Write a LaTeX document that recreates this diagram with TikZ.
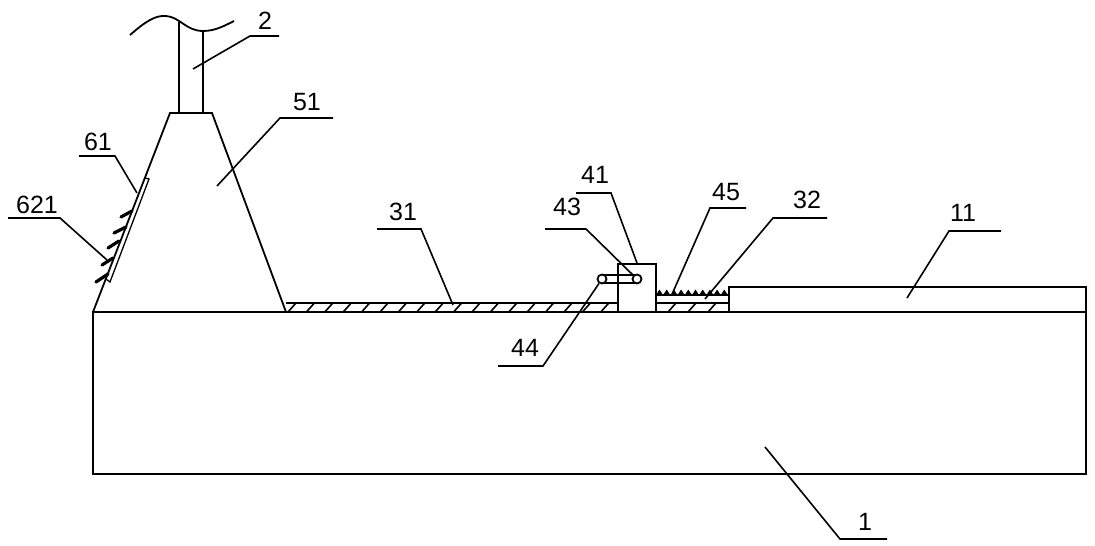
\documentclass[tikz,border=0pt]{standalone}
\usepackage{fontspec}
\setmainfont{Liberation Sans}
\usetikzlibrary{positioning}

\begin{document}
\begin{tikzpicture}[x=1pt,y=-1pt,line width=1.8pt,line join=miter,
  leader/.style={line width=1.6pt},
  brush/.style={line width=3.2pt,line cap=round},
  hatch/.style={line width=1.6pt},
  num/.style={font=\fontsize{25}{25}\selectfont,inner sep=0pt,text=black}]
  \useasboundingbox (0,0) rectangle (1095,546);
  % base and cover
  \draw (93,312) rectangle (1086,474);
  \draw (729,312) -- (729,287) -- (1086,287) -- (1086,312);
  % cone with pole
  \coordinate (coneA) at (93,312);
  \coordinate (coneB) at (170,113);
  \coordinate (coneC) at (212,113);
  \coordinate (coneD) at (286,312);
  \draw (coneA) -- (coneB) -- (coneC) -- (coneD);
  \draw (179,113) -- (179,22);
  \draw (203,113) -- (203,31);
  \draw (130,35) .. controls (145,22) and (155,15) .. (166,16)
     .. controls (180,17) and (186,31) .. (203,31)
     .. controls (215,31) and (224,26) .. (234,21);
  % plate 61 and brush 621
  \draw[line width=1.3pt] (145,178) -- (149,179) -- (110,282) -- (106,279);
  \draw[brush] (121,217) -- (132,211);
  \draw[brush] (114,233) -- (126,227);
  \draw[brush] (108,248) -- (119,241);
  \draw[brush] (102,265) -- (113,258);
  \draw[brush] (96,282) -- (108,274);
  % strips
  \draw (286,303) -- (618,303);
  \draw (656,303) -- (729,303);
  \draw (656,295) -- (729,295);
  \foreach \i in {0,...,17}
    \draw[hatch] (288+18.4*\i,312) -- (296+18.4*\i,303);
  \foreach \i in {0,1,2}
    \draw[hatch] (668+20*\i,312) -- (676+20*\i,303);
  % teeth
  \foreach \i in {0,...,9}
    \fill (656+7.2*\i,295) -- (659.5+7.2*\i,289.5) -- (663+7.2*\i,295) -- cycle;
  % slider 41
  \draw (618,312) -- (618,264) -- (656,264) -- (656,312);
  \draw (602,275) -- (637,275);
  \draw (602,283) -- (637,283);
  \node[circle,draw,fill=white,minimum size=9pt,inner sep=0pt] (roll1) at (602,279) {};
  \node[circle,draw,fill=white,minimum size=9pt,inner sep=0pt] (roll2) at (637,279) {};
  % labels and leaders
  \node[num] (n2) at (265,21) {2};
  \node[num] (n51) at (307,102) {51};
  \node[num] (n61) at (98,142) {61};
  \node[num] (n621) at (37,205) {621};
  \node[num] (n31) at (403,212) {31};
  \node[num] (n41) at (595,175) {41};
  \node[num] (n43) at (567,207) {43};
  \node[num] (n45) at (726,192) {45};
  \node[num] (n32) at (807,200) {32};
  \node[num] (n11) at (963,213) {11};
  \node[num] (n44) at (525,348) {44};
  \node[num] (n1) at (865,522) {1};
  \draw[leader] (193,69) -- (250,36) -- (279,36);
  \draw[leader] (217,186) -- (280,118) -- (333,118);
  \draw[leader] (137,193) -- (115,156) -- (79,156);
  \draw[leader] (107,260) -- (60,218) -- (8,218);
  \draw[leader] (453,305) -- (421,229) -- (377,229);
  \draw[leader] (637,263) -- (611,193) -- (576,193);
  \draw[leader] (roll2) -- (586,229) -- (545,229);
  \draw[leader] (673,292) -- (710,208) -- (746,208);
  \draw[leader] (705,299) -- (773,218) -- (827,218);
  \draw[leader] (907,298) -- (949,231) -- (1001,231);
  \draw[leader] (roll1) -- (543,366) -- (498,366);
  \draw[leader] (765,447) -- (840,539) -- (887,539);
\end{tikzpicture}
\end{document}
